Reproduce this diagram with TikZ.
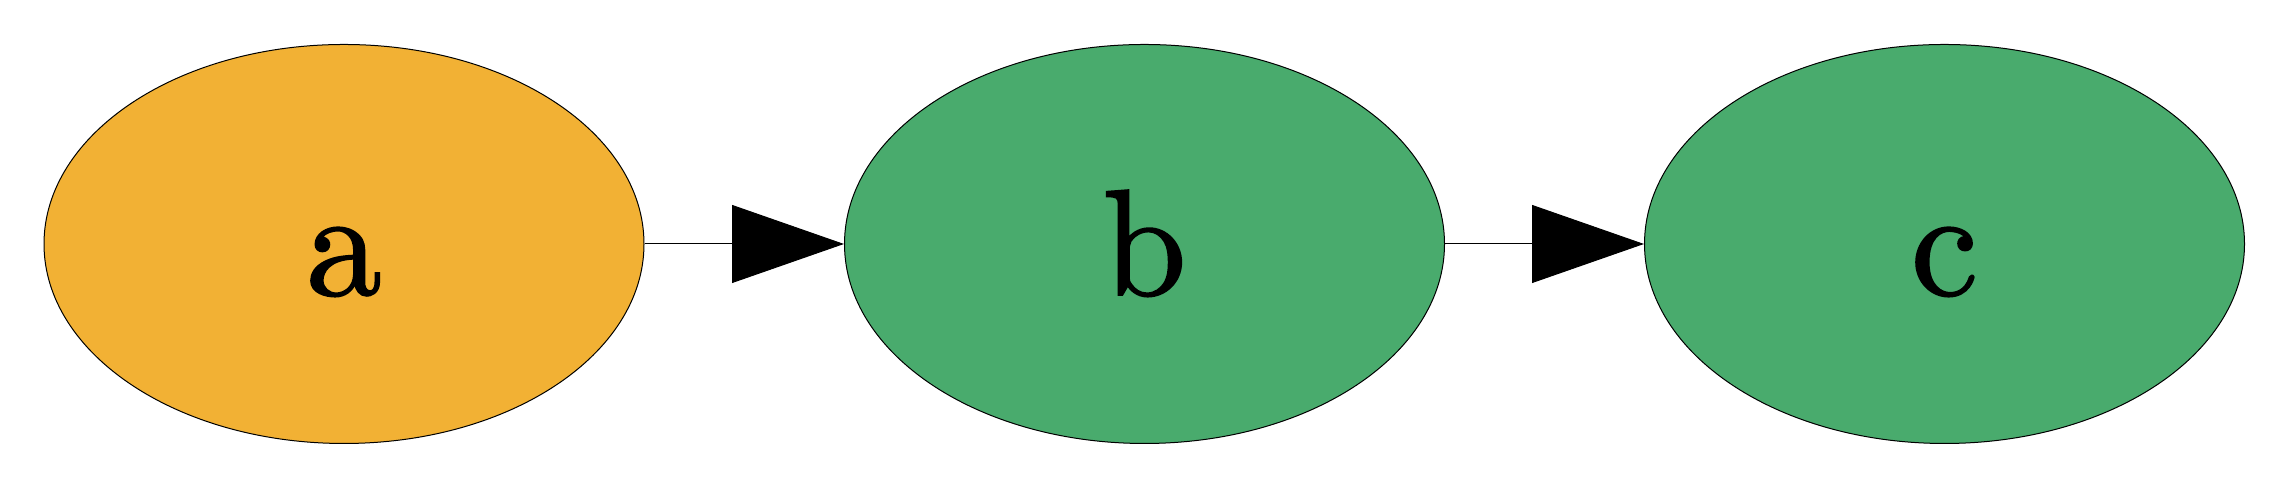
\documentclass[tikz,border=0pt]{standalone}
\usepackage{fontspec}
\newfontfamily\labelfont{lmroman10-regular.otf}[FakeBold=1.2]
\usetikzlibrary{shapes.geometric,arrows.meta}
\definecolor{nodeorange}{RGB}{242,177,52}
\definecolor{nodegreen}{RGB}{73,171,109}
\tikzset{
  gnode/.style={ellipse, draw=black, line width=0.01cm, inner sep=0pt,
    minimum width=6.0cm, minimum height=3.99cm,
    text height=1.02cm, text depth=0cm,
    font=\labelfont\fontsize{43pt}{50pt}\selectfont},
  gedge/.style={draw=black, line width=0.01cm,
    -{Triangle[length=1.12cm, width=0.78cm]}}
}
\begin{document}
\begin{tikzpicture}
\useasboundingbox (0,0) rectangle (22.89,4.89);
\node[gnode, fill=nodeorange] (a) at (3.44,2.45) {a};
\node[gnode, fill=nodegreen] (b) at (11.445,2.45) {b};
\node[gnode, fill=nodegreen] (c) at (19.445,2.45) {c};
\draw[gedge] (a) -- (b);
\draw[gedge] (b) -- (c);
\end{tikzpicture}
\end{document}
